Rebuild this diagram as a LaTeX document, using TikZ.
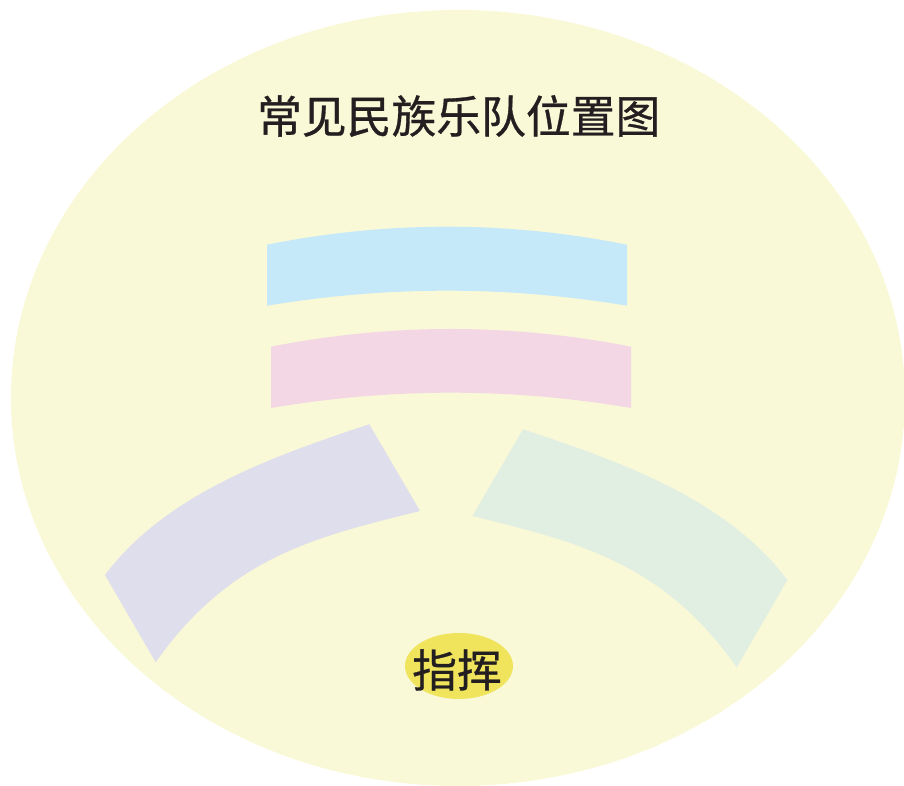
\documentclass[tikz,border=0pt]{standalone}
\usepackage{fontspec}
\usepackage{tikz}
\usetikzlibrary{shapes.geometric}
\newfontfamily\cjk[FakeBold=0.7]{Noto Sans CJK SC}
\definecolor{Cream}{HTML}{F9F8D7}
\definecolor{SkyBand}{HTML}{C6E9F9}
\definecolor{PinkBand}{HTML}{F4D7E5}
\definecolor{LilacBand}{HTML}{DFDEEC}
\definecolor{MintBand}{HTML}{E1EFE3}
\definecolor{Baton}{HTML}{EFE45C}
\definecolor{Ink}{HTML}{231F20}
\tikzset{
  band/.style={fill=#1, draw=none},
  band/.default={SkyBand},
  hanzi/.style={font=\cjk\fontsize{25.5pt}{30pt}\selectfont, text=Ink, inner sep=0pt},
}

\begin{document}
\begin{tikzpicture}[x=0.02cm, y=-0.02cm]
  \useasboundingbox (0,0) rectangle (904,786);
  \clip (0,0) rectangle (904,786);
  % stage
  \fill[Cream] (458,398) ellipse [x radius=447, y radius=388];
  \node[hanzi] (title) at (458.7,116) {常见民族乐队位置图};
  % rows of the orchestra
  \fill[band=SkyBand] (267,244.7) .. controls (387,220.7) and (507,220.7) .. (627,244.7)
    -- (627,305.7) .. controls (507,285.7) and (387,285.7) .. (267,305.7) -- cycle;
  \fill[band=PinkBand] (271,346.7) .. controls (391,323.1) and (511,323.1) .. (631,346.7)
    -- (631,408) .. controls (511,387.6) and (391,387.6) .. (271,408) -- cycle;
  \fill[band=LilacBand] (105,575) .. controls (166,494) and (272,456.5) .. (369.3,424.3)
    -- (420,511) .. controls (318.1,536.4) and (230.3,555.8) .. (155.7,662.3) -- cycle;
  \fill[band=MintBand] (787.4,580) .. controls (726.4,499) and (620.4,461.5) .. (523.1,429.3)
    -- (472.4,516) .. controls (574.3,541.4) and (662.1,560.8) .. (736.7,667.3) -- cycle;
  % conductor
  \node[ellipse, fill=Baton, minimum width=2.16cm, minimum height=1.32cm, inner sep=0pt] (conductor) at (459,666) {};
  \node[hanzi] (conductorlabel) at (457,670) {指挥};
\end{tikzpicture}
\end{document}
